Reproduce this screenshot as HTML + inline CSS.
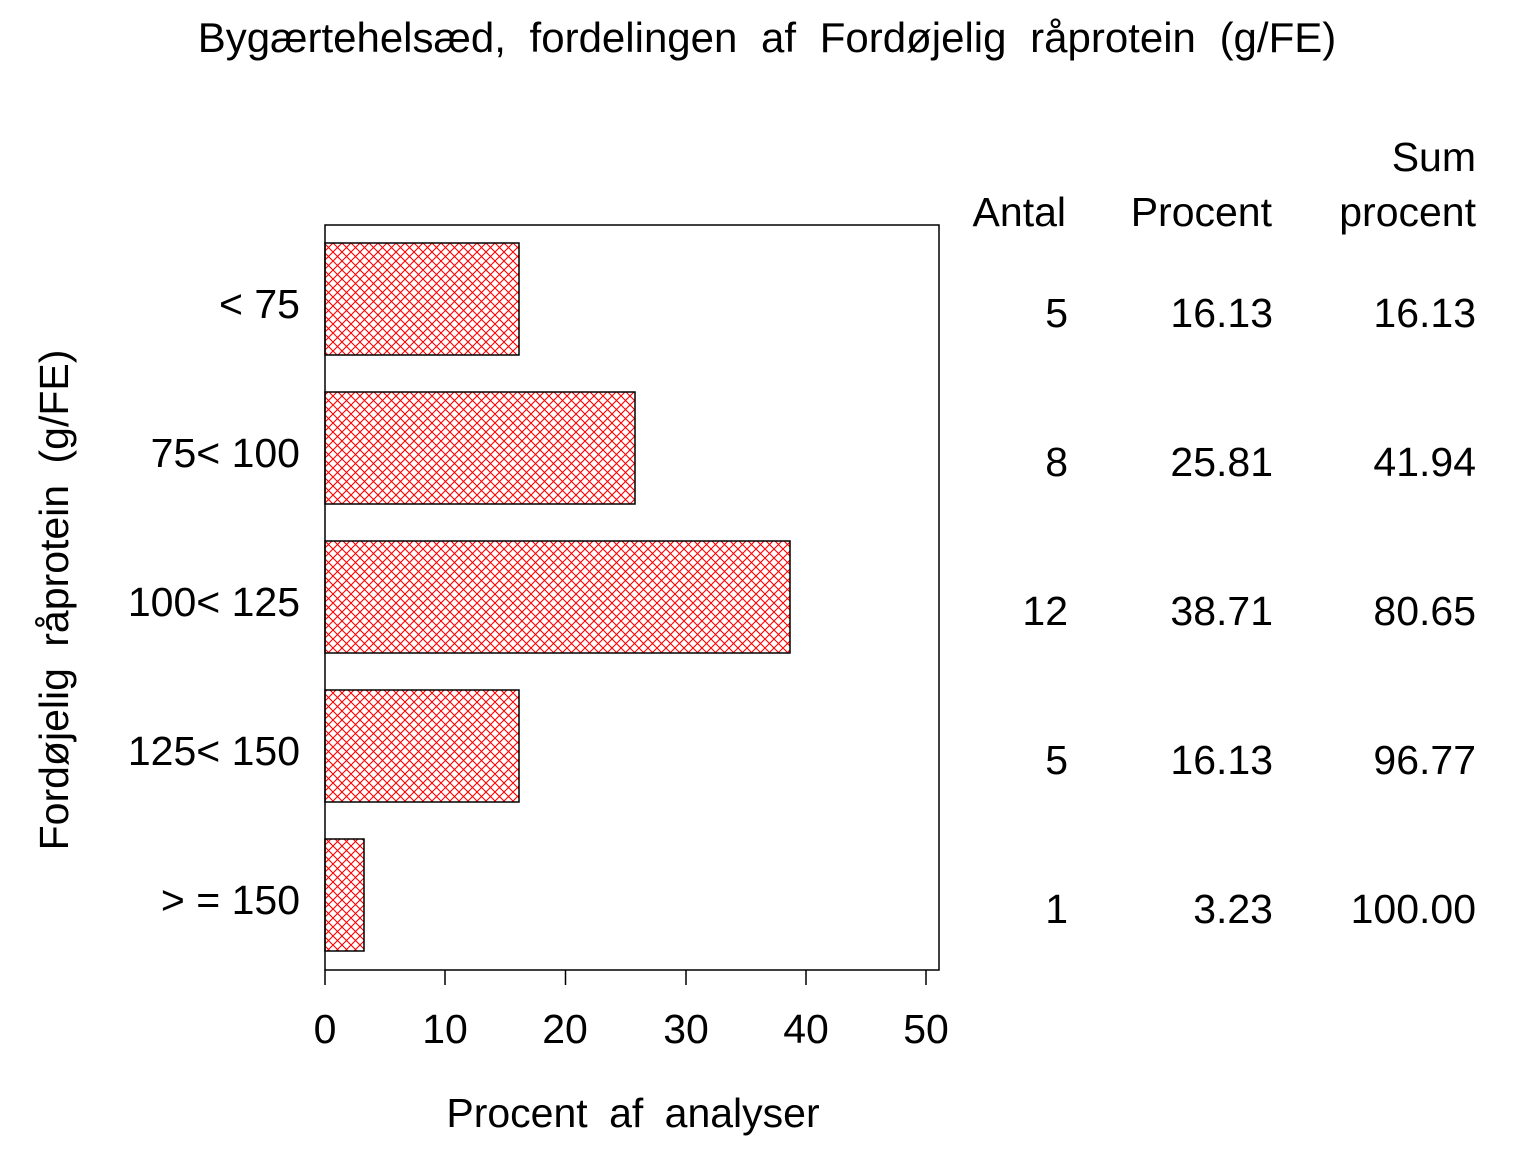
<!DOCTYPE html>
<html><head><meta charset="utf-8"><style>
body{margin:0;background:#fff}
svg text{font-family:"Liberation Sans",sans-serif;fill:#000}
</style></head><body>
<svg width="1536" height="1152" viewBox="0 0 1536 1152" xmlns="http://www.w3.org/2000/svg">
<defs>
<pattern id="h" width="9" height="9" patternUnits="userSpaceOnUse">
<path d="M0,0L9,9M9,0L0,9" stroke="#f00" stroke-width="1.1"/>
</pattern>
</defs>
<text x="767" y="52" font-size="42" text-anchor="middle" word-spacing="12">Bygærtehelsæd, fordelingen af Fordøjelig råprotein (g/FE)</text>
<rect x="325" y="225" width="614" height="745" fill="none" stroke="#000" stroke-width="1.5"/>
<g stroke="#000" stroke-width="1.5">
<rect x="325" y="243" width="194" height="112" fill="url(#h)"/>
<rect x="325" y="392" width="310" height="112" fill="url(#h)"/>
<rect x="325" y="541" width="465" height="112" fill="url(#h)"/>
<rect x="325" y="690" width="194" height="112" fill="url(#h)"/>
<rect x="325" y="839" width="39" height="112" fill="url(#h)"/>
</g>
<g stroke="#000" stroke-width="1.5">
<line x1="325" y1="970" x2="325" y2="985"/><line x1="445" y1="970" x2="445" y2="985"/>
<line x1="565.5" y1="970" x2="565.5" y2="985"/><line x1="686" y1="970" x2="686" y2="985"/>
<line x1="806" y1="970" x2="806" y2="985"/><line x1="926" y1="970" x2="926" y2="985"/>
</g>
<g font-size="41" text-anchor="middle">
<text x="325" y="1043">0</text><text x="445" y="1043">10</text><text x="565" y="1043">20</text>
<text x="686" y="1043">30</text><text x="806" y="1043">40</text><text x="926" y="1043">50</text>
<text x="633" y="1127" word-spacing="10">Procent af analyser</text>
</g>
<g font-size="41" text-anchor="end">
<text x="300" y="318">&lt; 75</text>
<text x="300" y="467">75&lt; 100</text>
<text x="300" y="616">100&lt; 125</text>
<text x="300" y="765">125&lt; 150</text>
<text x="300" y="914">&gt; = 150</text>
</g>
<text transform="translate(68,600) rotate(-90)" font-size="41" text-anchor="middle" word-spacing="10">Fordøjelig råprotein (g/FE)</text>
<g font-size="41" text-anchor="end">
<text x="1476" y="171">Sum</text>
<text x="1066" y="226">Antal</text><text x="1272" y="226">Procent</text><text x="1476" y="226">procent</text>
<text x="1068" y="327">5</text><text x="1273" y="327">16.13</text><text x="1476" y="327">16.13</text>
<text x="1068" y="476">8</text><text x="1273" y="476">25.81</text><text x="1476" y="476">41.94</text>
<text x="1068" y="625">12</text><text x="1273" y="625">38.71</text><text x="1476" y="625">80.65</text>
<text x="1068" y="774">5</text><text x="1273" y="774">16.13</text><text x="1476" y="774">96.77</text>
<text x="1068" y="923">1</text><text x="1273" y="923">3.23</text><text x="1476" y="923">100.00</text>
</g>
</svg>
</body></html>
